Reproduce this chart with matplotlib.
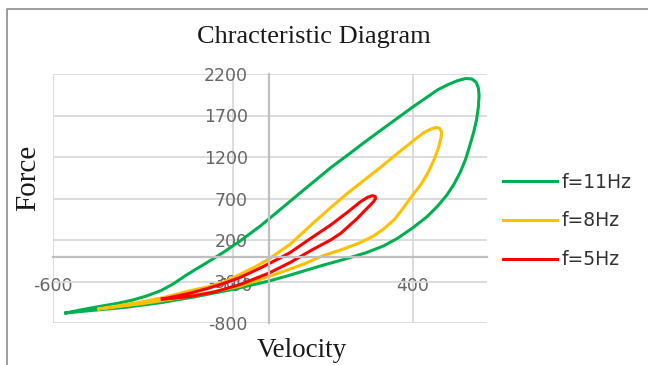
import matplotlib
matplotlib.use("Agg")
import matplotlib.pyplot as plt
from matplotlib.lines import Line2D

plt.rcParams["axes.unicode_minus"] = False

# loops: upper branch left->right, then lower branch right->left
vel_11 = [-564, -520, -470, -422, -380, -340, -300, -266, -230, -200, -171, -130, -79, -23, 30, 88, 130, 172,
          220, 264, 311, 360, 403, 440, 470, 500, 525, 548, 565, 577, 583, 585,
          583, 578, 570, 560, 548, 533, 515, 495, 470, 440, 400, 360, 320, 270, 200, 150, 100, 50, 0,
          -100, -200, -300, -400, -500, -564]
force_11 = [-679, -640, -600, -565, -525, -475, -410, -330, -225, -145, -70, 40, 190, 370, 560, 770, 920, 1070,
            1225, 1370, 1520, 1675, 1810, 1920, 2010, 2075, 2120, 2146, 2140, 2100, 2030, 1941,
            1800, 1650, 1500, 1350, 1180, 1020, 870, 740, 610, 480, 345, 225, 130, 45, -45, -105, -170, -235, -295,
            -395, -480, -555, -612, -652, -679]

vel_8 = [-472, -420, -358, -290, -218, -170, -126, -80, -32, 0, 60, 120, 172, 219, 265, 311, 357, 403,
         430, 450, 465, 475, 481,
         479, 472, 460, 445, 425, 400, 375, 350, 320, 290, 250, 200, 150, 100, 50, 0,
         -79, -171, -250, -358, -472]
force_8 = [-630, -595, -550, -490, -410, -365, -310, -215, -110, -30, 150, 390, 590, 763, 920, 1076, 1240, 1400,
           1490, 1535, 1556, 1545, 1500,
           1430, 1310, 1170, 1030, 880, 740, 590, 450, 335, 245, 160, 80, 10, -85, -165, -240,
           -355, -439, -500, -570, -630]

vel_5 = [-296, -250, -218, -171, -120, -79, -20, 30, 60, 110, 172, 219, 255, 275, 288, 296, 297,
         292, 280, 265, 245, 227, 200, 172, 120, 60, 0, -79, -150, -218, -260, -296]
force_5 = [-511, -470, -440, -385, -315, -250, -130, -20, 50, 200, 380, 535, 660, 715, 735, 725, 700,
           665, 610, 545, 455, 385, 280, 200, 80, -70, -200, -335, -425, -480, -500, -511]

series = [
    (vel_11, force_11, "f=11Hz", "#00B050"),
    (vel_8, force_8, "f=8Hz", "#FFC000"),
    (vel_5, force_5, "f=5Hz", "#FF0000"),
]

x_ticks = [-600, -100, 400]
y_ticks = [-800, -300, 200, 700, 1200, 1700, 2200]

fig = plt.figure(figsize=(6.48, 3.65), dpi=100)
ax = fig.add_axes([53 / 648, 1 - 323 / 365, (487 - 53) / 648, (323 - 74) / 365])

for vx, fy, lab, col in series:
    ax.plot(vx, fy, color=col, lw=2.2, label=lab, solid_joinstyle="round")

ax.set_xlim(-600, 607)
ax.set_ylim(-800, 2200)
ax.set_xticks(x_ticks)
ax.set_yticks(y_ticks)
ax.grid(True, color="#D9D9D9", lw=1.3)
ax.set_axisbelow(True)

for s in ["top", "right"]:
    ax.spines[s].set_visible(False)
ax.spines["left"].set_position(("data", 0))
ax.spines["bottom"].set_position(("data", 0))
for s in ["left", "bottom"]:
    ax.spines[s].set_color("#BFBFBF")
    ax.spines[s].set_linewidth(1.6)

ax.tick_params(axis="both", length=0, labelsize=12.5, labelcolor="#666666")
ax.tick_params(axis="y", pad=15)
ax.tick_params(axis="x", pad=15)

fig.text(0.4838, 0.898, "Chracteristic Diagram", family="Liberation Serif", fontsize=19,
         ha="center", va="center", color="#1a1a1a")
fig.text(0.043, 0.512, "Force", family="Liberation Serif", fontsize=21, rotation=90,
         ha="center", va="center", color="#1a1a1a")
fig.text(0.466, 0.041, "Velocity", family="Liberation Serif", fontsize=19.5,
         ha="center", va="center", color="#1a1a1a")

leg = ax.legend(loc="center left", bbox_to_anchor=(503 / 648, 1 - 221 / 365),
                bbox_transform=fig.transFigure, frameon=False, fontsize=13.5,
                handlelength=2.9, handletextpad=0.2, labelspacing=1.05,
                borderpad=0, borderaxespad=0)
for t in leg.get_texts():
    t.set_color("#333333")

# partial outer frame seen at the left and top of the picture
fig.add_artist(Line2D([7 / 648, 7 / 648, 1], [0, 1 - 8.5 / 365, 1 - 8.5 / 365],
                      transform=fig.transFigure, color="#8c8c8c", lw=1.2))

fig.savefig("out.png", dpi=100)
